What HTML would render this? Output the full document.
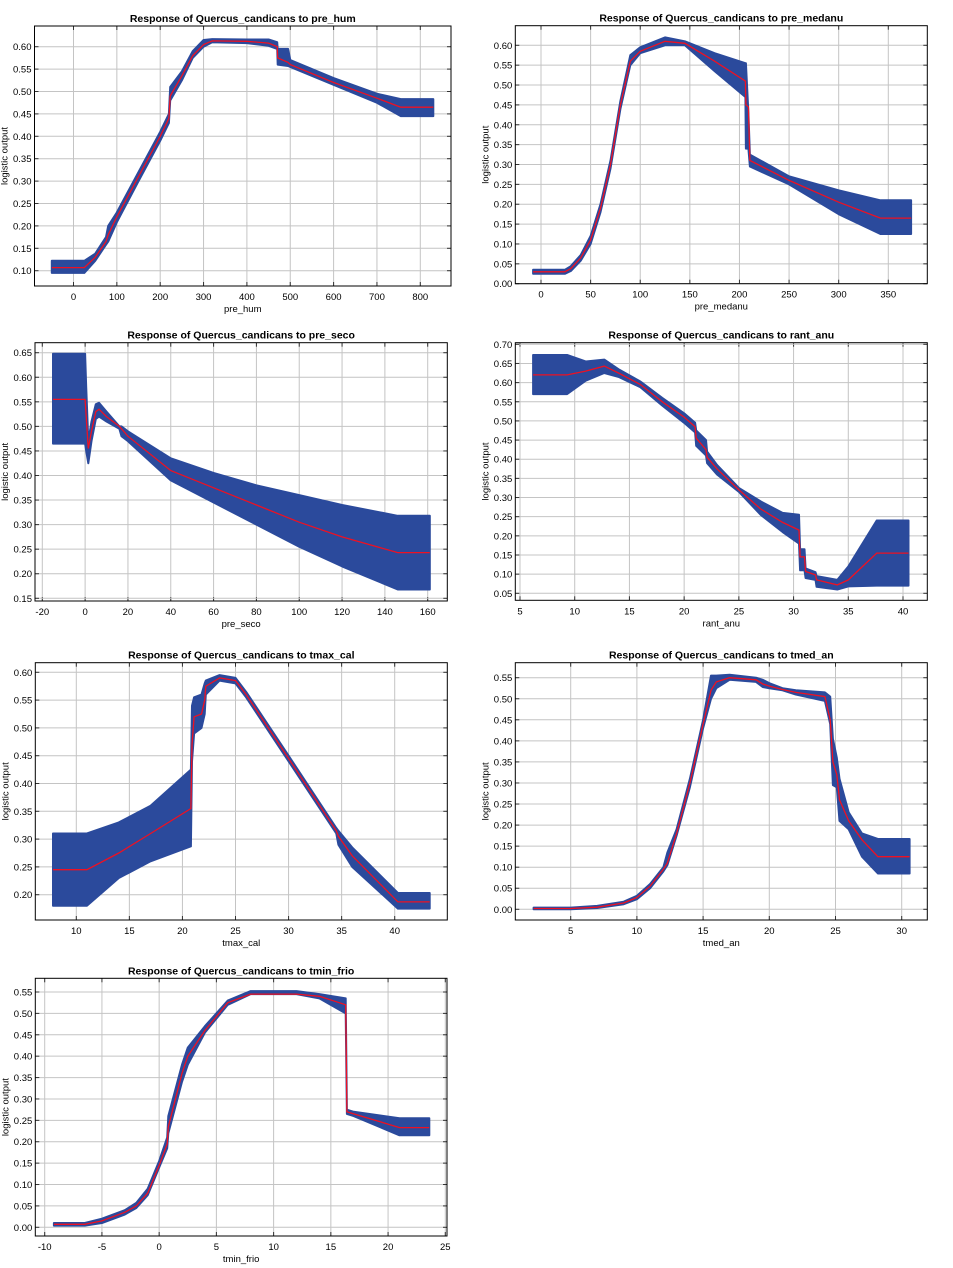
<!DOCTYPE html>
<html><head><meta charset="utf-8">
<style>
html,body{margin:0;padding:0;background:#fff;}
svg{display:block;font-family:"Liberation Sans",sans-serif;}
</style></head>
<body>
<svg id="root" width="953" height="1268" viewBox="0 0 953 1268" xmlns="http://www.w3.org/2000/svg"></svg>
<script>
// ---- pre_hum ----
const hum_x   = [-50,25,50,75,80,100,150,200,220,223,250,275,300,320,400,450,470,471,495,500,600,700,755,830];
const hum_mid = [0.107,0.107,0.13,0.165,0.18,0.22,0.31,0.40,0.44,0.49,0.535,0.58,0.605,0.613,0.612,0.608,0.60,0.575,0.565,0.56,0.52,0.485,0.465,0.465];
const hum_lo  = [0.095,0.095,0.122,0.158,0.165,0.208,0.30,0.39,0.43,0.48,0.525,0.575,0.60,0.61,0.608,0.602,0.595,0.56,0.557,0.555,0.515,0.475,0.445,0.445];
const hum_hi  = [0.122,0.122,0.138,0.175,0.20,0.23,0.32,0.41,0.45,0.51,0.545,0.59,0.615,0.617,0.616,0.616,0.61,0.595,0.595,0.57,0.53,0.495,0.483,0.483];
// ---- pre_medanu ----
const med_x   = [-8,24,30,40,50,60,70,80,90,100,125,145,175,206,206.5,209,210.5,250,300,342,373];
const med_mid = [0.03,0.03,0.038,0.065,0.11,0.19,0.30,0.45,0.56,0.585,0.61,0.605,0.56,0.51,0.45,0.445,0.31,0.26,0.205,0.165,0.165];
const med_lo  = [0.025,0.025,0.032,0.058,0.10,0.18,0.29,0.44,0.55,0.58,0.60,0.60,0.535,0.47,0.34,0.34,0.295,0.25,0.175,0.125,0.125];
const med_hi  = [0.035,0.035,0.044,0.072,0.12,0.20,0.31,0.46,0.575,0.595,0.62,0.61,0.58,0.555,0.555,0.43,0.325,0.27,0.235,0.21,0.21];
// ---- pre_seco ----
const sec_x   = [-15,0,0.5,1.5,3,5,6.5,10,16,17,20,40,60,80,100,120,146,161];
const sec_mid = [0.555,0.555,0.52,0.455,0.49,0.53,0.535,0.52,0.50,0.495,0.48,0.41,0.375,0.34,0.305,0.275,0.243,0.243];
const sec_lo  = [0.465,0.465,0.45,0.425,0.47,0.515,0.52,0.51,0.495,0.48,0.47,0.39,0.345,0.30,0.255,0.215,0.168,0.168];
const sec_hi  = [0.648,0.648,0.58,0.47,0.51,0.545,0.548,0.53,0.50,0.50,0.49,0.435,0.405,0.38,0.36,0.34,0.318,0.318];
// ---- rant_anu ----
const ran_x   = [6.2,9.3,11,12.7,14,16,18,20,21,21.1,22,22.1,23,25,27,29,30.5,30.6,31,31.1,32,32.1,34,35,37.6,40.5];
const ran_mid = [0.62,0.62,0.63,0.643,0.625,0.595,0.55,0.51,0.485,0.455,0.425,0.405,0.375,0.32,0.27,0.235,0.215,0.145,0.145,0.107,0.098,0.085,0.072,0.085,0.155,0.155];
const ran_lo  = [0.57,0.57,0.605,0.625,0.615,0.588,0.54,0.495,0.47,0.435,0.41,0.39,0.36,0.315,0.255,0.21,0.18,0.11,0.11,0.09,0.085,0.067,0.06,0.068,0.07,0.07];
const ran_hi  = [0.672,0.672,0.655,0.66,0.635,0.603,0.56,0.52,0.495,0.475,0.45,0.42,0.385,0.325,0.29,0.26,0.255,0.165,0.165,0.115,0.105,0.095,0.085,0.12,0.24,0.24];
// ---- tmax_cal ----
const tmx_x   = [7.8,11,14,17,20.8,20.9,21.1,21.8,22.1,22.2,23.5,25,26,30,34.5,34.7,36,40.3,43.3];
const tmx_mid = [0.245,0.245,0.275,0.31,0.355,0.47,0.52,0.525,0.55,0.575,0.59,0.585,0.56,0.445,0.315,0.305,0.27,0.187,0.187];
const tmx_lo  = [0.18,0.18,0.23,0.26,0.287,0.44,0.49,0.50,0.525,0.56,0.585,0.58,0.555,0.44,0.31,0.29,0.25,0.175,0.175];
const tmx_hi  = [0.31,0.31,0.33,0.36,0.425,0.54,0.555,0.56,0.58,0.585,0.595,0.59,0.565,0.45,0.32,0.315,0.285,0.203,0.203];
// ---- tmed_an ----
const tmd_x   = [2.2,5,7,9,10,11,12,12.3,13,14,15,15.6,16,17,19,19.5,20,21,22,24.2,24.6,24.8,25.1,25.3,26,27,28.2,30.6];
const tmd_mid = [0.002,0.002,0.005,0.015,0.028,0.055,0.095,0.11,0.18,0.30,0.44,0.52,0.54,0.55,0.545,0.535,0.53,0.522,0.515,0.505,0.45,0.35,0.32,0.26,0.21,0.165,0.125,0.125];
const tmd_lo  = [0,0,0.003,0.012,0.024,0.05,0.09,0.105,0.175,0.29,0.43,0.5,0.525,0.545,0.54,0.528,0.525,0.52,0.51,0.495,0.44,0.295,0.29,0.21,0.19,0.125,0.085,0.085];
const tmd_hi  = [0.004,0.004,0.008,0.018,0.032,0.06,0.10,0.135,0.19,0.31,0.45,0.555,0.555,0.557,0.55,0.545,0.537,0.525,0.52,0.515,0.505,0.405,0.36,0.31,0.23,0.18,0.167,0.167];
// ---- tmin_frio ----
const tmn_x   = [-9.2,-6.5,-5,-3,-2,-1,0,0.7,0.8,2.0,2.5,4,6,8,12,14,16.3,16.4,17,21,23.6];
const tmn_mid = [0.007,0.007,0.015,0.035,0.05,0.08,0.145,0.195,0.235,0.36,0.40,0.46,0.525,0.545,0.545,0.54,0.52,0.27,0.265,0.233,0.233];
const tmn_lo  = [0.004,0.004,0.01,0.03,0.045,0.075,0.14,0.185,0.22,0.34,0.38,0.455,0.52,0.545,0.545,0.535,0.50,0.265,0.26,0.215,0.215];
const tmn_hi  = [0.01,0.01,0.02,0.04,0.057,0.09,0.155,0.21,0.26,0.38,0.42,0.47,0.53,0.552,0.552,0.545,0.535,0.275,0.27,0.255,0.255];

// tick label arrays
const hum_xticks = [0,100,200,300,400,500,600,700,800];
const hum_yticks = [0.10,0.15,0.20,0.25,0.30,0.35,0.40,0.45,0.50,0.55,0.60];
const med_xticks = [0,50,100,150,200,250,300,350];
const med_yticks = [0,0.05,0.10,0.15,0.20,0.25,0.30,0.35,0.40,0.45,0.50,0.55,0.60];
const sec_xticks = [-20,0,20,40,60,80,100,120,140,160];
const sec_yticks = [0.15,0.20,0.25,0.30,0.35,0.40,0.45,0.50,0.55,0.60,0.65];
const ran_xticks = [5,10,15,20,25,30,35,40];
const ran_yticks = [0.05,0.10,0.15,0.20,0.25,0.30,0.35,0.40,0.45,0.50,0.55,0.60,0.65,0.70];
const tmx_xticks = [10,15,20,25,30,35,40];
const tmx_yticks = [0.20,0.25,0.30,0.35,0.40,0.45,0.50,0.55,0.60];
const tmd_xticks = [5,10,15,20,25,30];
const tmd_yticks = [0,0.05,0.10,0.15,0.20,0.25,0.30,0.35,0.40,0.45,0.50,0.55];
const tmn_xticks = [-10,-5,0,5,10,15,20,25];
const tmn_yticks = [0,0.05,0.10,0.15,0.20,0.25,0.30,0.35,0.40,0.45,0.50,0.55];

const NS = "http://www.w3.org/2000/svg";
const root = document.getElementById('root');
function mk(tag, attrs, parent){
  const e = document.createElementNS(NS, tag);
  for (const k in attrs) e.setAttribute(k, attrs[k]);
  parent.appendChild(e);
  return e;
}

const panels = [
  {id:'pre-hum', v:'pre_hum', box:[34.5,26,451,286], xr:[0,73.5,800,420.3], yr:[0.6,46.7,0.1,270.7], xt:hum_xticks, yt:hum_yticks, x:hum_x, m:hum_mid, lo:hum_lo, hi:hum_hi},
  {id:'pre-medanu', v:'pre_medanu', box:[515.3,25.7,927.3,283.7], xr:[0,541,350,888.3], yr:[0.6,45.3,0,283.7], xt:med_xticks, yt:med_yticks, x:med_x, m:med_mid, lo:med_lo, hi:med_hi},
  {id:'pre-seco', v:'pre_seco', box:[35,342.7,447.3,601], xr:[-20,42.3,160,427.7], yr:[0.65,352.7,0.15,598.3], xt:sec_xticks, yt:sec_yticks, x:sec_x, m:sec_mid, lo:sec_lo, hi:sec_hi},
  {id:'rant-anu', v:'rant_anu', box:[515.3,342.7,927.3,600.3], xr:[5,520,40,903], yr:[0.7,344.3,0.05,593.3], xt:ran_xticks, yt:ran_yticks, x:ran_x, m:ran_mid, lo:ran_lo, hi:ran_hi},
  {id:'tmax-cal', v:'tmax_cal', box:[35.3,662.7,447.3,920], xr:[10,76.3,40,394.7], yr:[0.6,672.3,0.2,894.7], xt:tmx_xticks, yt:tmx_yticks, x:tmx_x, m:tmx_mid, lo:tmx_lo, hi:tmx_hi},
  {id:'tmed-an', v:'tmed_an', box:[515.3,662.7,927.3,920], xr:[5,570.7,30,901.7], yr:[0.55,677.7,0,909.3], xt:tmd_xticks, yt:tmd_yticks, x:tmd_x, m:tmd_mid, lo:tmd_lo, hi:tmd_hi},
  {id:'tmin-frio', v:'tmin_frio', box:[35.3,978.3,447,1236], xr:[-10,44.7,25,445.3], yr:[0.55,992,0,1227.3], xt:tmn_xticks, yt:tmn_yticks, x:tmn_x, m:tmn_mid, lo:tmn_lo, hi:tmn_hi}
];

panels.forEach(p => {
  const [L,T,R,B] = p.box;
  const sx = v => p.xr[1] + (v - p.xr[0]) * (p.xr[3]-p.xr[1])/(p.xr[2]-p.xr[0]);
  const sy = v => p.yr[1] + (v - p.yr[0]) * (p.yr[3]-p.yr[1])/(p.yr[2]-p.yr[0]);
  const g = mk('g', {}, root);
  
  

  const t = mk('text', {x:(L+R)/2, y:T-4, 'text-anchor':'middle', 'font-size':'10.5', 'font-weight':'bold', fill:'#000'}, g);
  
  
  t.textContent = 'Response of Quercus_candicans to ' + p.v;

  // grid
  p.xt.forEach(v => {
    const X = sx(v);
    const gl = mk('line', {x1:X, x2:X, y1:T, y2:B, stroke:'#c4c4c4', 'stroke-width':1}, g);
    
    
    mk('line', {x1:X, x2:X, y1:B, y2:B-4, stroke:'#333', 'stroke-width':1}, g);
    mk('line', {x1:X, x2:X, y1:T, y2:T+4, stroke:'#333', 'stroke-width':1}, g);
    const lb = mk('text', {x:X, y:B+14, 'text-anchor':'middle', 'font-size':'9.5', fill:'#000'}, g);
    
    
    lb.textContent = String(v);
  });
  p.yt.forEach(v => {
    const Y = sy(v);
    const gl = mk('line', {x1:L, x2:R, y1:Y, y2:Y, stroke:'#c4c4c4', 'stroke-width':1}, g);
    
    
    mk('line', {x1:L, x2:L+4, y1:Y, y2:Y, stroke:'#333', 'stroke-width':1}, g);
    mk('line', {x1:R, x2:R-4, y1:Y, y2:Y, stroke:'#333', 'stroke-width':1}, g);
    const lb = mk('text', {x:L-3, y:Y+3.5, 'text-anchor':'end', 'font-size':'9.5', fill:'#000'}, g);
    
    
    lb.textContent = v.toFixed(2);
  });

  // band
  let pts = [];
  for (let i=0;i<p.x.length;i++) pts.push(sx(p.x[i]).toFixed(1)+','+sy(p.hi[i]).toFixed(1));
  for (let i=p.x.length-1;i>=0;i--) pts.push(sx(p.x[i]).toFixed(1)+','+sy(p.lo[i]).toFixed(1));
  const band = mk('polygon', {points:pts.join(' '), fill:'#2b4a9c', stroke:'#2b4a9c', 'stroke-width':2, 'stroke-linejoin':'round'}, g);
  
  

  let lp = [];
  for (let i=0;i<p.x.length;i++) lp.push(sx(p.x[i]).toFixed(1)+','+sy(p.m[i]).toFixed(1));
  const line = mk('polyline', {points:lp.join(' '), fill:'none', stroke:'#ee1122', 'stroke-width':1.3}, g);
  
  

  const fr = mk('rect', {x:L, y:T, width:R-L, height:B-T, fill:'none', stroke:'#000', 'stroke-width':1}, g);
  
  

  const xl = mk('text', {x:(L+R)/2, y:B+26, 'text-anchor':'middle', 'font-size':'9.5', fill:'#000'}, g);
  
  
  xl.textContent = p.v;

  const cy = (T+B)/2, cx = L-27;
  const yl = mk('text', {x:cx, y:cy, 'text-anchor':'middle', 'font-size':'9.5', fill:'#000', transform:'rotate(-90 '+cx+' '+cy+')'}, g);
  
  
  yl.textContent = 'logistic output';
});
</script>
</body></html>
